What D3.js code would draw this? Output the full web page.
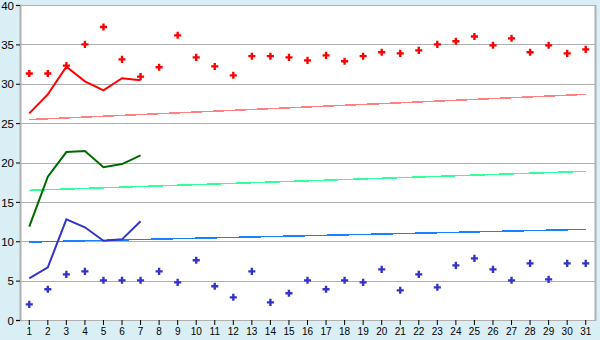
<!DOCTYPE html>
<html>
<head>
<meta charset="utf-8">
<script src="https://cdn.jsdelivr.net/npm/d3@7"></script>
<style>
  body { margin: 0; background: #d9eef5; }
  svg { display: block; }
</style>
</head>
<body>
<div id="canvas"></div>
<script>
// dagen 1..31
const days = d3.range(1, 32);

// rode punten en lijn
const redPoints = [31.3, 31.3, 32.3, 35.0, 37.2, 33.1, 30.9, 32.1, 36.15, 33.35,
  32.2, 31.07, 33.5, 33.5, 33.35, 32.97, 33.6, 32.85, 33.5, 34.0,
  33.86, 34.24, 35.0, 35.39, 36.0, 34.88, 35.77, 34.0, 34.88, 33.86, 34.37];
const redLine = [26.24, 28.65, 32.17, 30.3, 29.17, 30.7, 30.43];
const redTrend = [25.45, 28.65];

// groene lijn
const greenLine = [11.85, 18.2, 21.33, 21.46, 19.39, 19.8, 20.9];
const greenTrend = [16.47, 18.88];

// blauwe punten en lijn
const bluePoints = [1.99, 3.9, 5.8, 6.18, 5.04, 5.04, 5.04, 6.18, 4.78, 7.58,
  4.28, 2.88, 6.18, 2.24, 3.39, 5.04, 3.9, 5.04, 4.78, 6.43,
  3.77, 5.8, 4.15, 6.94, 7.83, 6.43, 5.04, 7.19, 5.16, 7.19, 7.19];
const blueLine = [5.29, 6.69, 12.78, 11.77, 10.07, 10.24, 12.53];
const blueTrend = [9.9, 11.51];

const yTicks = [0, 5, 10, 15, 20, 25, 30, 35, 40];

const width = 600, height = 340;
const margin = {top: 5, right: 5, bottom: 20, left: 20};

const svg = d3.select('#canvas').append('svg')
  .attr('width', width)
  .attr('height', height)
  .style('font-family', 'Verdana, "DejaVu Sans", sans-serif')
  .style('font-size', '11px');

const x = d3.scaleBand()
  .domain(days)
  .range([margin.left, width - margin.right]);

const y = d3.scaleLinear()
  .domain([0, 40])
  .range([height - margin.bottom, margin.top]);

const cx = d => x(d) + x.bandwidth() / 2;

// plotvlak
svg.append('rect')
  .attr('x', margin.left)
  .attr('y', margin.top)
  .attr('width', width - margin.left - margin.right)
  .attr('height', height - margin.top - margin.bottom)
  .attr('fill', '#fff');

// rasterlijnen
svg.append('g')
  .selectAll('line')
  .data(yTicks)
  .enter()
  .append('line')
  .attr('x1', margin.left)
  .attr('x2', width - margin.right)
  .attr('y1', d => Math.round(y(d)) + 0.5)
  .attr('y2', d => Math.round(y(d)) + 0.5)
  .attr('stroke', '#b0b0b0');

// rand rechts
svg.append('line')
  .attr('x1', width - margin.right + 0.5)
  .attr('x2', width - margin.right + 0.5)
  .attr('y1', margin.top)
  .attr('y2', height - margin.bottom + 1)
  .attr('stroke', '#b0b0b0')
  .attr('stroke-width', 2);

// assen
const yAxis = svg.append('g')
  .attr('transform', `translate(${margin.left},0)`)
  .call(d3.axisLeft(y).tickValues(yTicks).tickSize(4).tickPadding(2));
yAxis.select('.domain').attr('stroke', '#b0b0b0').attr('stroke-width', 2);
yAxis.selectAll('text').attr('fill', '#000').style('font-size', '11.5px').attr('dy', '0.36em');

const xAxis = svg.append('g')
  .attr('transform', `translate(0,${height - margin.bottom})`)
  .call(d3.axisBottom(x).tickSize(5).tickPadding(3));
xAxis.select('.domain').remove();
xAxis.selectAll('text').attr('fill', '#000');

// trendlijnen
const trends = [
  {values: redTrend, color: '#ff8080'},
  {values: greenTrend, color: '#33ff99'},
  {values: blueTrend, color: '#1a80ff'}
];
svg.append('g')
  .selectAll('line')
  .data(trends)
  .enter()
  .append('line')
  .attr('x1', cx(days[0]))
  .attr('x2', cx(days[days.length - 1]))
  .attr('y1', d => y(d.values[0]))
  .attr('y2', d => y(d.values[1]))
  .attr('stroke', d => d.color)
  .attr('stroke-width', 1.5)
  .attr('shape-rendering', 'crispEdges');

// lijnen
const line = d3.line()
  .x((d, i) => cx(days[i]))
  .y(d => y(d));

const series = [
  {values: redLine, color: '#ff0000'},
  {values: greenLine, color: '#006a00'},
  {values: blueLine, color: '#3333cc'}
];
svg.append('g')
  .selectAll('path')
  .data(series)
  .enter()
  .append('path')
  .attr('d', d => line(d.values))
  .attr('fill', 'none')
  .attr('stroke', d => d.color)
  .attr('stroke-width', 2);

// punten
const marker = d3.symbol().type(d3.symbolCross).size(28);

svg.append('g')
  .selectAll('path')
  .data(redPoints)
  .enter()
  .append('path')
  .attr('d', marker)
  .attr('transform', (d, i) => `translate(${cx(days[i])},${y(d)})`)
  .attr('fill', '#ff0000');

svg.append('g')
  .selectAll('path')
  .data(bluePoints)
  .enter()
  .append('path')
  .attr('d', marker)
  .attr('transform', (d, i) => `translate(${cx(days[i])},${y(d)})`)
  .attr('fill', '#3333cc');
</script>
</body>
</html>
